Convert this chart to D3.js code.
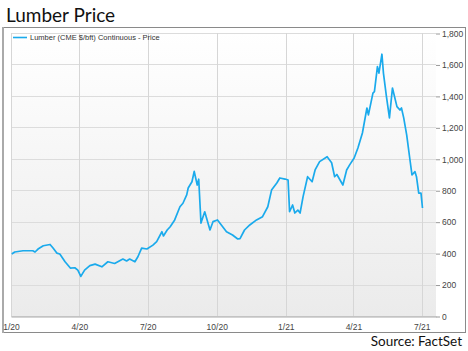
<!DOCTYPE html>
<html>
<head>
<meta charset="utf-8">
<script src="https://cdn.jsdelivr.net/npm/d3@7"></script>
<style>
  body { margin: 0; background: #fff; }
  svg { display: block; }
  .tick text { font-family: "Liberation Sans", Arial, sans-serif; fill: #444; }
</style>
</head>
<body>
<svg id="chart" width="468" height="351"></svg>
<script>
// lumber futures
const dates = [
  '2020-01-02','2020-01-06','2020-01-17','2020-01-30','2020-02-02','2020-02-06','2020-02-13','2020-02-22',
  '2020-02-26','2020-03-02','2020-03-06','2020-03-13','2020-03-20','2020-03-26','2020-03-30','2020-04-03',
  '2020-04-08','2020-04-15','2020-04-22','2020-05-01','2020-05-09','2020-05-18','2020-05-29','2020-06-03',
  '2020-06-07','2020-06-14','2020-06-18','2020-06-23','2020-06-30','2020-07-08','2020-07-13','2020-07-20',
  '2020-07-22','2020-07-27','2020-07-31','2020-08-06','2020-08-13','2020-08-17','2020-08-22','2020-08-24',
  '2020-08-29','2020-09-01','2020-09-05','2020-09-07','2020-09-10','2020-09-15','2020-09-22','2020-09-26',
  '2020-10-02','2020-10-14','2020-10-22','2020-10-29','2020-11-01','2020-11-07','2020-11-14','2020-11-23',
  '2020-12-01','2020-12-08','2020-12-13','2020-12-20','2020-12-24','2020-12-31','2021-01-04','2021-01-06',
  '2021-01-10','2021-01-13','2021-01-17','2021-01-20','2021-01-24','2021-01-30','2021-02-05','2021-02-09',
  '2021-02-15','2021-02-25','2021-03-03','2021-03-07','2021-03-10','2021-03-18','2021-03-23','2021-03-27',
  '2021-04-02','2021-04-07','2021-04-13','2021-04-19','2021-04-21','2021-04-27','2021-04-29','2021-05-03',
  '2021-05-05','2021-05-09','2021-05-11','2021-05-15','2021-05-19','2021-05-23','2021-05-29','2021-06-02',
  '2021-06-04','2021-06-07','2021-06-11','2021-06-15','2021-06-18','2021-06-22','2021-06-24','2021-06-27',
  '2021-06-30','2021-07-02'
];
const prices = [
  394, 407, 415, 415, 407, 426, 447, 455,
  432, 400, 394, 345, 305, 307, 292, 252,
  292, 320, 330, 313, 345, 334, 362, 350,
  362, 345, 377, 432, 426, 451, 473, 536,
  509, 547, 568, 611, 695, 717, 770, 814,
  854, 920, 833, 870, 591, 663, 547, 600,
  611, 536, 515, 490, 492, 547, 579, 611,
  632, 695, 801, 846, 878, 871, 865, 663,
  706, 655, 674, 655, 759, 886, 854, 929,
  982, 1013, 975, 886, 900, 833, 929, 961,
  1005, 1069, 1164, 1323, 1279, 1418, 1427, 1586,
  1545, 1665, 1545, 1395, 1260, 1450, 1332, 1310,
  1323, 1260, 1151, 1005, 897, 918, 886, 782,
  782, 687
];
const xTicks = ['2020-01-01','2020-04-01','2020-07-01','2020-10-01','2021-01-01','2021-04-01','2021-07-01'];
const yTicks = [0, 200, 400, 600, 800, 1000, 1200, 1400, 1600, 1800];
const seriesName = 'Lumber (CME $/bft) Continuous - Price';

const parse = d3.timeParse('%Y-%m-%d');
const data = dates.map((d, i) => ({ date: parse(d), price: prices[i] }));

const svg = d3.select('#chart');
const plotL = 11, plotR = 436, plotT = 33, plotB = 316;

const x = d3.scaleTime()
  .domain([parse('2020-01-01'), parse('2021-07-20')])
  .range([plotL, plotR]);
const y = d3.scaleLinear().domain([0, 1800]).range([plotB, plotT]);

// title
svg.append('text')
  .attr('x', 6).attr('y', 22)
  .attr('font-family', 'Lato, "Open Sans", sans-serif')
  .attr('font-size', 19)
  .attr('fill', '#111')
  .text('Lumber Price');

// frame
svg.append('rect')
  .attr('x', 2.5).attr('y', 27.5).attr('width', 463).attr('height', 305)
  .attr('fill', '#fff').attr('stroke', '#8a8a8a');
svg.append('line')
  .attr('x1', 3).attr('x2', 3).attr('y1', 27).attr('y2', 333)
  .attr('stroke', '#aaa').attr('stroke-width', 2);

// plot background
const grad = svg.append('defs').append('linearGradient')
  .attr('id', 'bg').attr('x1', 0).attr('x2', 0).attr('y1', 0).attr('y2', 1);
grad.append('stop').attr('offset', '0%').attr('stop-color', '#ffffff');
grad.append('stop').attr('offset', '100%').attr('stop-color', '#ebebeb');
svg.append('rect')
  .attr('x', plotL).attr('y', plotT).attr('width', plotR - plotL).attr('height', plotB - plotT)
  .attr('fill', 'url(#bg)');

// grid
svg.append('g').selectAll('line').data(yTicks).join('line')
  .attr('x1', plotL).attr('x2', plotR)
  .attr('y1', d => Math.round(y(d)) + 0.5).attr('y2', d => Math.round(y(d)) + 0.5)
  .attr('stroke', '#dcdcdc');
svg.append('g').selectAll('line').data(xTicks).join('line')
  .attr('x1', d => Math.round(x(parse(d))) + 0.5).attr('x2', d => Math.round(x(parse(d))) + 0.5)
  .attr('y1', plotT).attr('y2', plotB)
  .attr('stroke', '#d6d6d6');

// axes
const xAxis = d3.axisBottom(x)
  .tickValues(xTicks.map(parse))
  .tickFormat(d3.timeFormat('%-m/%y'))
  .tickSize(0)
  .tickPadding(7);
const xAxisG = svg.append('g')
  .attr('transform', `translate(0,${plotB + 0.5})`)
  .call(xAxis);
xAxisG.select('.domain').attr('stroke', '#aaa');
xAxisG.selectAll('text').attr('font-size', 8.5);

const yAxis = d3.axisRight(y)
  .tickValues(yTicks)
  .tickFormat(d3.format(','))
  .tickSize(4)
  .tickPadding(2);
const yAxisG = svg.append('g')
  .attr('transform', `translate(${plotR},0.5)`)
  .call(yAxis);
yAxisG.select('.domain').remove();
yAxisG.selectAll('line').attr('stroke', '#999');
yAxisG.selectAll('text').attr('font-size', 8.5);

// series
const line = d3.line()
  .x(d => x(d.date))
  .y(d => y(d.price));
svg.append('path')
  .datum(data)
  .attr('d', line)
  .attr('fill', 'none')
  .attr('stroke', '#1aaaec')
  .attr('stroke-width', 1.7)
  .attr('stroke-linejoin', 'round');

// legend
svg.append('line')
  .attr('x1', 13).attr('x2', 27).attr('y1', 37.5).attr('y2', 37.5)
  .attr('stroke', '#1aaaec').attr('stroke-width', 1.6);
svg.append('text')
  .attr('x', 30).attr('y', 40)
  .attr('font-family', '"Liberation Sans", Arial, sans-serif')
  .attr('font-size', 7.5)
  .attr('fill', '#333')
  .text(seriesName);

// source
svg.append('text')
  .attr('x', 462).attr('y', 346)
  .attr('text-anchor', 'end')
  .attr('font-family', 'Lato, "Open Sans", sans-serif')
  .attr('font-size', 13.5)
  .attr('fill', '#111')
  .text('Source: FactSet');
</script>
</body>
</html>
